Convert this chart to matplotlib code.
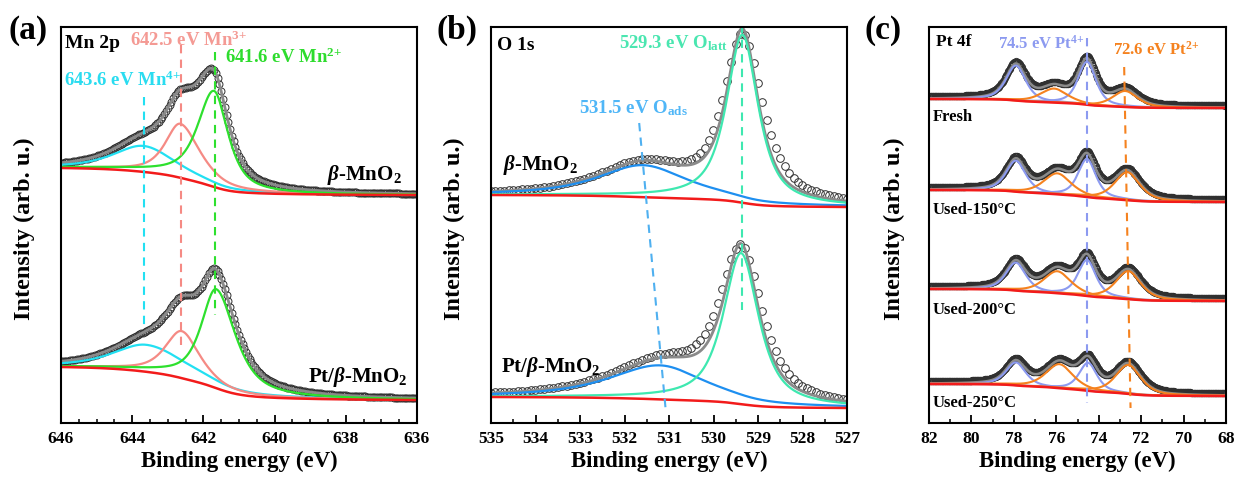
import numpy as np
import matplotlib
matplotlib.use('Agg')
import matplotlib.pyplot as plt
from matplotlib.ticker import MultipleLocator

plt.rcParams['font.family'] = 'Liberation Serif'
plt.rcParams['font.weight'] = 'bold'
plt.rcParams['axes.labelweight'] = 'bold'
plt.rcParams['mathtext.fontset'] = 'custom'
plt.rcParams['mathtext.rm'] = 'Liberation Serif:bold'
plt.rcParams['mathtext.it'] = 'Liberation Serif:italic:bold'
plt.rcParams['mathtext.bf'] = 'Liberation Serif:bold'
plt.rcParams['mathtext.default'] = 'rm'

# ---------------- data (peak centre eV, height, FWHM high-BE side / low-BE side) ----------------
# (a) Mn 2p : rows = beta-MnO2, Pt/beta-MnO2 ; cols = Mn4+, Mn3+, Mn2+
mn_center = [[643.68, 642.65, 641.7], [643.6, 642.61, 641.64]]
mn_height = [[26, 54, 96], [27, 47, 99]]
mn_fwhm = [[(2.0, 2.1), (1.0, 1.3), (1.1, 0.95)],
           [(2.2, 2.7), (1.1, 1.2), (1.0, 1.3)]]
mn_bg = [[255, 228], [56, 23]]          # background at 646 eV / 636 eV
mn_samples = ['$\\mathit{\\beta}$-MnO$_2$', 'Pt/$\\mathit{\\beta}$-MnO$_2$']

# (b) O 1s : cols = O_ads, O_latt
o_center = [[531.58, 529.35], [531.2, 529.38]]
o_height = [[32, 168], [34, 151]]
o_fwhm = [[(2.4, 2.4), (0.85, 0.85)], [(2.7, 2.4), (0.95, 0.95)]]
o_meas_height = [[32, 163], [34, 150]]   # measured points
o_meas_fwhm = [[(2.4, 2.4), (1.0, 1.1)], [(2.7, 2.4), (1.15, 1.15)]]
o_bg = [[228, 216], [26, 15]]           # background at 535 eV / 527 eV

# (c) Pt 4f : cols = Pt4+ 5/2, Pt4+ 7/2, Pt2+ 5/2, Pt2+ 7/2
pt_samples = ['Fresh', 'Used-150°C', 'Used-200°C', 'Used-250°C']
pt_center = [[77.9, 74.55, 76.1, 72.75],
             [77.9, 74.55, 75.95, 72.65],
             [77.9, 74.55, 75.95, 72.6],
             [77.9, 74.5, 75.85, 72.6]]
pt_height = [[35, 43, 14, 16],
             [31, 38, 21, 28],
             [28, 36, 22, 28],
             [23, 28, 24, 29]]
pt_fwhm = [(1.1, 1.1), (1.0, 1.0), (1.5, 1.5), (1.4, 1.4)]
pt_bg = [[324, 315], [233, 221], [134, 122], [39, 27]]   # at 82 eV / 68 eV


def pv(x, c, h, w, eta=0.75):
    # pseudo-Voigt, w = (FWHM on high-BE side, FWHM on low-BE side)
    ww = np.where(x >= c, w[0], w[1])
    g = np.exp(-4 * np.log(2) * ((x - c) / ww) ** 2)
    l = 1 / (1 + 4 * ((x - c) / ww) ** 2)
    return h * (eta * l + (1 - eta) * g)


def shirley(peaks, hi, lo):
    tot = np.sum(peaks, axis=0)
    cum = np.cumsum(tot)
    cum = cum / cum[-1]
    return lo + (hi - lo) * cum


fig = plt.figure(figsize=(12.36, 4.79), dpi=100)
H = 479.0
def add_ax(left, right):
    return fig.add_axes([left / 1236, (H - 423) / H, (right - left) / 1236, 396 / H])

ax_a = add_ax(61, 417)
ax_b = add_ax(491, 847)
ax_c = add_ax(929, 1226)

circ = dict(ls='none', marker='o', mfc='none', mec='#303030', mew=0.7)
dash = dict(ls=(0, (4, 3)), lw=1.5)

# ---------------- (a) ----------------
mn_colors = ['#22e0f2', '#f58a84', '#2ee02e']
x = np.arange(636, 646.001, 0.01)
xs = np.arange(636, 646.001, 0.05)
for i in range(2):
    pk = [pv(x, c, h, w) for c, h, w in zip(mn_center[i], mn_height[i], mn_fwhm[i])]
    bg = shirley(pk, *mn_bg[i])
    env = bg + np.sum(pk, axis=0)
    ax_a.plot(xs, np.interp(xs, x, env), ms=5, **circ)
    ax_a.plot(x, env, color='#8a8a8a', lw=2)
    for p, col in zip(pk, mn_colors):
        ax_a.plot(x, bg + p, color=col, lw=1.6)
    ax_a.plot(x, bg, color='#f21b1b', lw=1.8)
ax_a.plot([643.68, 643.68], [423 - 97, 423 - 330], color='#22e0f2', **dash)
ax_a.plot([642.63, 642.63], [423 - 45, 423 - 345], color='#f58a84', **dash)
ax_a.plot([641.67, 641.67], [423 - 52, 423 - 315], color='#2ee02e', **dash)
ax_a.text(645.89, 380, 'Mn 2p', fontsize=14, va='center')
ax_a.text(644.06, 383, '642.5 eV Mn$^{3{+}}$', fontsize=13.5, va='center', color='#f49a94')
ax_a.text(641.39, 366, '641.6 eV Mn$^{2{+}}$', fontsize=13.5, va='center', color='#2edc2e')
ax_a.text(645.92, 343, '643.6 eV Mn$^{4{+}}$', fontsize=13.5, va='center', color='#2adcf0')
ax_a.text(636.42, 248, mn_samples[0], fontsize=15, va='center', ha='right')
ax_a.text(636.25, 46, mn_samples[1], fontsize=15, va='center', ha='right')
ax_a.set_xlim(646, 636)
ax_a.xaxis.set_major_locator(MultipleLocator(2))
ax_a.xaxis.set_minor_locator(MultipleLocator(0.5))

# ---------------- (b) ----------------
o_colors = ['#1e8ff0', '#3ee8b0']
x = np.arange(527, 535.001, 0.01)
xs = np.arange(527, 535.001, 0.1)
for i in range(2):
    pk = [pv(x, c, h, w, 0.8) for c, h, w in zip(o_center[i], o_height[i], o_fwhm[i])]
    bg = shirley(pk, *o_bg[i])
    env = bg + np.sum(pk, axis=0)
    pm = [pv(xs, c, h, w, 0.8) for c, h, w in zip(o_center[i], o_meas_height[i], o_meas_fwhm[i])]
    ax_b.plot(xs, np.interp(xs, x, bg) + np.sum(pm, axis=0), ms=5.5, **circ)
    ax_b.plot(x, env, color='#8a8a8a', lw=2)
    for p, col in zip(pk, o_colors):
        ax_b.plot(x, bg + p, color=col, lw=1.6)
    ax_b.plot(x, bg, color='#f21b1b', lw=1.8)
ax_b.plot([531.67, 531.07], [423 - 123, 423 - 412], color='#4fb0f0', **dash)
ax_b.plot([529.35, 529.35], [423 - 25, 423 - 310], color='#3ee8b0', **dash)
ax_b.text(534.87, 378, 'O 1s', fontsize=14, va='center')
ax_b.text(532.12, 380, '529.3 eV O$_{latt}$', fontsize=13.5, va='center', color='#4ae6b0')
ax_b.text(533.02, 315, '531.5 eV O$_{ads}$', fontsize=13.5, va='center', color='#4fb6f7')
ax_b.text(534.73, 258, mn_samples[0], fontsize=15, va='center')
ax_b.text(534.78, 56, mn_samples[1], fontsize=15, va='center')
ax_b.set_xlim(535, 527)
ax_b.xaxis.set_major_locator(MultipleLocator(1))
ax_b.xaxis.set_minor_locator(MultipleLocator(0.5))

# ---------------- (c) ----------------
pt_colors = ['#8c9af0', '#8c9af0', '#f5821f', '#f5821f']
x = np.arange(68, 82.001, 0.01)
xs = np.arange(68, 82.001, 0.03)
label_y = [306, 213, 113, 20]
for i in range(4):
    pk = [pv(x, c, h, w, 0.6) for c, h, w in zip(pt_center[i], pt_height[i], pt_fwhm)]
    bg = shirley(pk, *pt_bg[i])
    env = bg + np.sum(pk, axis=0)
    ax_c.plot(xs, np.interp(xs, x, env) + 2, ms=4.5, **circ)
    ax_c.plot(x, env, color='#8a8a8a', lw=1.8)
    for p, col in zip(pk, pt_colors):
        ax_c.plot(x, bg + p, color=col, lw=1.5)
    ax_c.plot(x, bg, color='#f21b1b', lw=1.8)
    ax_c.text(81.84, label_y[i], pt_samples[i], fontsize=12, va='center')
ax_c.plot([74.55, 74.55], [423 - 38, 423 - 403], color='#8c9af0', **dash)
ax_c.plot([72.8, 72.5], [423 - 67, 423 - 408], color='#f5821f', **dash)
ax_c.text(81.67, 381, 'Pt 4f', fontsize=12.5, va='center')
ax_c.text(78.75, 379, '74.5 eV Pt$^{4{+}}$', fontsize=12, va='center', color='#8c9af0')
ax_c.text(73.32, 373, '72.6 eV Pt$^{2{+}}$', fontsize=12, va='center', color='#f5821f')
ax_c.set_xlim(82, 68)
ax_c.xaxis.set_major_locator(MultipleLocator(2))
ax_c.xaxis.set_minor_locator(MultipleLocator(1))

for ax, lab, lx in [(ax_a, '(a)', 9), (ax_b, '(b)', 437), (ax_c, '(c)', 865)]:
    ax.set_ylim(0, 396)
    ax.set_yticks([])
    for s in ax.spines.values():
        s.set_linewidth(1.5)
    ax.tick_params(axis='x', which='major', direction='in', length=6, width=1.3,
                   labelsize=12.5, pad=6)
    ax.tick_params(axis='x', which='minor', direction='in', length=3, width=1.1)
    ax.set_xlabel('Binding energy (eV)', fontsize=16.5)
    ax.xaxis.set_label_coords(0.5, -0.07)
    ax.set_ylabel('Intensity (arb. u.)', fontsize=17.5)
    fig.text(lx / 1236, (H - 30) / H, lab, fontsize=24, va='center')

ax_a.yaxis.set_label_coords(-0.073, 0.49)
ax_b.yaxis.set_label_coords(-0.073, 0.49)
ax_c.yaxis.set_label_coords(-0.081, 0.49)

fig.savefig('out.png', dpi=100)
